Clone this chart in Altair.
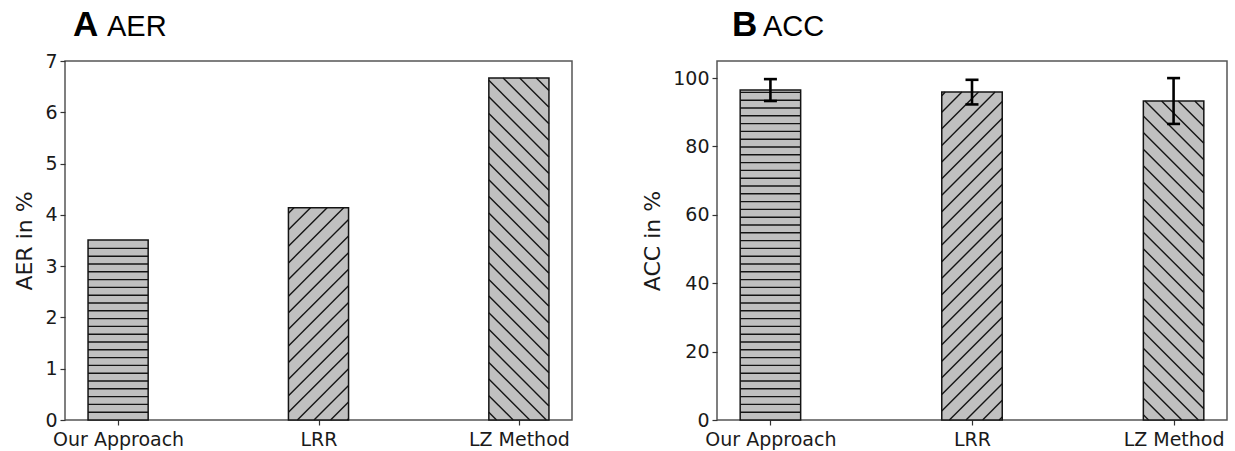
import json
import altair as alt
import pandas as pd

# ---------------- data ----------------
methods = ["Our Approach", "LRR", "LZ Method"]
positions = [0, 1, 2]
hatch_styles = ["-", "/", "\\"]

aer_values = [3.51, 4.14, 6.67]

acc_values = [96.5, 95.9, 93.3]
acc_errors = [3.2, 3.6, 6.7]

panel_letters = ["A", "B"]
panel_names = ["AER", "ACC"]
y_titles = ["AER in %", "ACC in %"]
aer_ticks = [0, 1, 2, 3, 4, 5, 6, 7]
acc_ticks = [0, 20, 40, 60, 80, 100]

# ---------------- style / layout ----------------
BAR_W = 0.3
X_DOMAIN = [-0.265, 2.265]
W_A, W_B, H = 507, 510, 359
HATCH_H = 7.8   # px spacing of horizontal hatch
HATCH_D = 16.6  # px horizontal spacing of diagonal hatch
BAR_FILL = "#c0c0c0"
EDGE = "#141414"
FONT = "DejaVu Sans"

label_expr = "%s[datum.value]" % json.dumps(methods)


def hatch_segments(values, ymax, width, height):
    sx = width / (X_DOMAIN[1] - X_DOMAIN[0])
    sy = height / ymax
    rows = []
    for pos, val, style in zip(positions, values, hatch_styles):
        x0 = (pos - BAR_W / 2 - X_DOMAIN[0]) * sx
        x1 = (pos + BAR_W / 2 - X_DOMAIN[0]) * sx
        h = val * sy
        segs = []
        if style == "-":
            k = 1
            while k * HATCH_H < h - 1.5:
                segs.append((x0, k * HATCH_H, x1, k * HATCH_H))
                k += 1
        elif style == "/":
            # py = px + c
            for k in range(int(-x1 // HATCH_D) - 1, int(h // HATCH_D) + 2):
                c = k * HATCH_D
                lo = max(x0, -c)
                hi = min(x1, h - c)
                if hi - lo > 0.5:
                    segs.append((lo, lo + c, hi, hi + c))
        else:
            # py = -px + c
            for k in range(int(x0 // HATCH_D) - 1, int((x1 + h) // HATCH_D) + 2):
                c = k * HATCH_D
                lo = max(x0, c - h)
                hi = min(x1, c)
                if hi - lo > 0.5:
                    segs.append((lo, c - lo, hi, c - hi))
        for a, b, c2, d in segs:
            rows.append({
                "hx": a / sx + X_DOMAIN[0], "hy": b / sy,
                "hx2": c2 / sx + X_DOMAIN[0], "hy2": d / sy,
            })
    return pd.DataFrame(rows)


def panel(values, ymax, yticks, width, letter, name, ytitle, errors=None):
    df = pd.DataFrame({"method": methods, "pos": positions, "value": values})
    if errors is not None:
        df["lo"] = [v - e for v, e in zip(values, errors)]
        df["hi"] = [v + e for v, e in zip(values, errors)]

    xscale = alt.Scale(domain=X_DOMAIN, nice=False, zero=False)
    yscale = alt.Scale(domain=[0, ymax], nice=False, zero=True)
    xaxis = alt.Axis(values=positions, labelExpr=label_expr, grid=False,
                     labelAngle=0, labelFlush=False, labelOverlap=False,
                     labelPadding=5)
    yaxis = alt.Axis(values=yticks, grid=False, format="d")

    def X(f):
        return alt.X(f, type="quantitative", scale=xscale, axis=xaxis, title=None)

    def Y(f):
        return alt.Y(f, type="quantitative", scale=yscale, axis=yaxis, title=ytitle)

    base = alt.Chart(df).transform_calculate(
        left="datum.pos - %f" % (BAR_W / 2),
        right="datum.pos + %f" % (BAR_W / 2),
        zero="0",
    )
    bars = base.mark_rect(fill=BAR_FILL, stroke=None).encode(
        x=X("left"), x2="right", y=Y("value"), y2="zero:Q"
    )
    hdf = hatch_segments(values, ymax, width, H)
    hatch = alt.Chart(hdf).mark_rule(color=EDGE, strokeWidth=1.4).encode(
        x=X("hx"), x2="hx2", y=Y("hy"), y2="hy2"
    )
    outline = base.mark_rect(fill=None, stroke=EDGE, strokeWidth=1.5).encode(
        x=X("left"), x2="right", y=Y("value"), y2="zero:Q"
    )
    layers = [bars, hatch, outline]
    if errors is not None:
        err_rule = base.mark_rule(color="black", strokeWidth=2.6).encode(
            x=X("pos"), y=Y("lo"), y2="hi"
        )
        cap_lo = base.mark_tick(orient="horizontal", size=13, thickness=2.6,
                                color="black", opacity=1).encode(x=X("pos"), y=Y("lo"))
        cap_hi = base.mark_tick(orient="horizontal", size=13, thickness=2.6,
                                color="black", opacity=1).encode(x=X("pos"), y=Y("hi"))
        layers += [err_rule, cap_lo, cap_hi]

    tl = alt.Chart(pd.DataFrame({"t": [letter]})).mark_text(
        align="left", baseline="alphabetic", font="Liberation Sans",
        fontSize=35, fontWeight="bold", color="black"
    ).encode(x=alt.value(8 if letter == "A" else 15), y=alt.value(-25), text="t:N")
    tn = alt.Chart(pd.DataFrame({"t": [name]})).mark_text(
        align="left", baseline="alphabetic", font="Liberation Sans",
        fontSize=29, color="black"
    ).encode(x=alt.value(42 if letter == "A" else 46), y=alt.value(-25), text="t:N")
    layers += [tl, tn]
    return alt.layer(*layers).properties(width=width, height=H)


chart_a = panel(aer_values, 7, aer_ticks, W_A, panel_letters[0], panel_names[0], y_titles[0])
chart_b = panel(acc_values, 105, acc_ticks, W_B, panel_letters[1], panel_names[1], y_titles[1],
                errors=acc_errors)

chart = alt.hconcat(chart_a, chart_b, spacing=67).properties(
    padding={"left": 13, "top": 7, "right": 5, "bottom": 0},
    background="white",
).configure_view(
    stroke="#555555", strokeWidth=1.5
).configure_axis(
    domain=False,
    ticks=True, tickColor="#333333", tickSize=5, tickWidth=1.2,
    labelFont=FONT, labelFontSize=19, labelColor="#1a1a1a", labelPadding=3,
    titleFont=FONT, titleFontSize=22, titleFontWeight="normal", titleColor="#1a1a1a",
    titlePadding=8,
)

chart.save("out.html", embed_options={"renderer": "svg", "actions": False})
